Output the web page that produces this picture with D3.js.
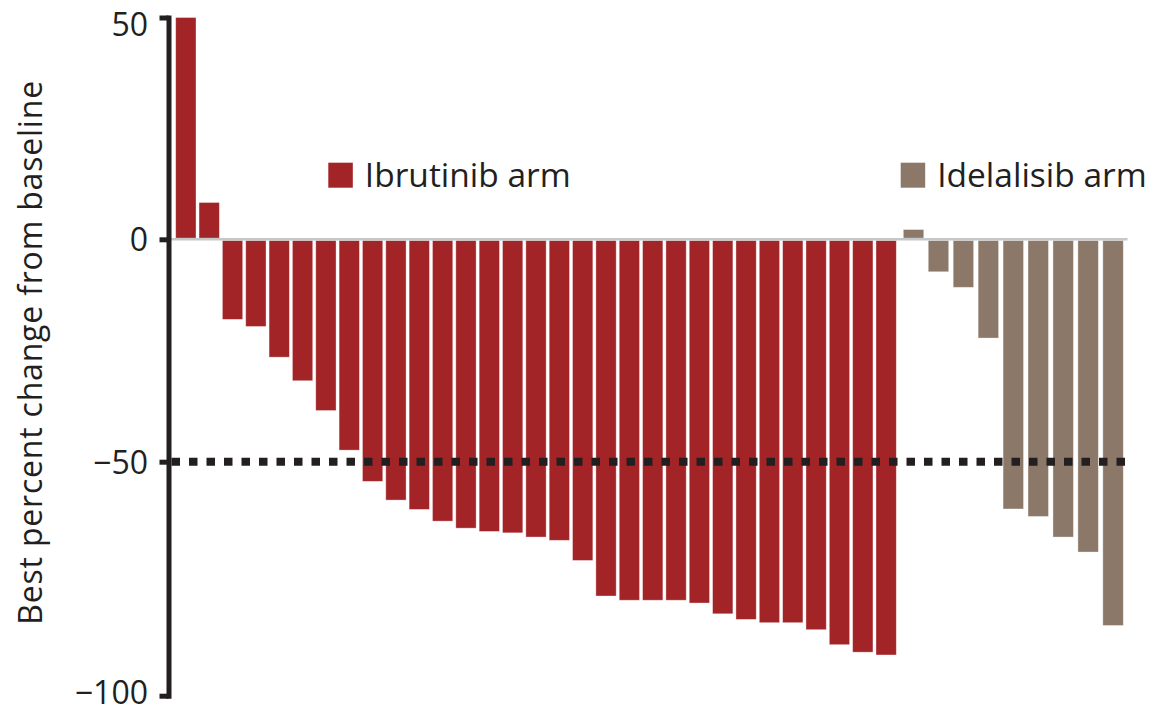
<!DOCTYPE html>
<html>
<head>
<meta charset="utf-8">
<script src="https://cdn.jsdelivr.net/npm/d3@7"></script>
<style>
  html, body { margin: 0; padding: 0; background: #fff; }
  svg { display: block; }
</style>
</head>
<body>
<svg id="chart" width="1151" height="708"></svg>
<script>
// ---- Data ----
const ibrutinibValues = [50, 8.3, -18.0, -19.6, -26.5, -31.8, -38.5, -47.4, -54.2, -58.2,
  -60.2, -62.7, -64.2, -64.9, -65.2, -66.1, -66.8, -71.1, -78.7, -79.6,
  -79.6, -79.6, -80.2, -82.5, -83.7, -84.4, -84.4, -85.9, -89.1, -90.7, -91.3];
const idelalisibValues = [2.2, -7.3, -10.8, -22.2, -60.1, -61.7, -66.1, -69.3, -85.0];
const yTickValues = [-100, -50, 0, 50];
const yTickLabels = ["\u2212100", "\u221250", "0", "50"];
const legendLabels = ["Ibrutinib arm", "Idelalisib arm"];
const yAxisTitle = "Best percent change from baseline";
const thresholdValue = -50;

// ---- Styles ----
const colIbr = "#a22426";
const colIde = "#8b7868";
const ink = "#231f20";
const font = "'Open Sans', 'Noto Sans', sans-serif";

const svg = d3.select("#chart");

// Vertical scale (the printed axis is slightly stretched below -50)
const y = d3.scaleLinear()
  .domain([-100, -50, 0, 50])
  .range([695.7, 461.7, 239.3, 17.5]);

const xIbr = d3.scaleBand()
  .domain(d3.range(ibrutinibValues.length))
  .range([175.7, 896.3])
  .paddingInner(0.13).paddingOuter(0);

const xIde = d3.scaleBand()
  .domain(d3.range(idelalisibValues.length))
  .range([903.3, 1123.3])
  .paddingInner(0.18).paddingOuter(0);

const axisX = 168.5;
const plotRight = 1127.5;

// Bars
function drawBars(values, xs, color, cls) {
  svg.append("g").attr("class", cls)
    .selectAll("rect").data(values).join("rect")
    .attr("x", (d, i) => xs(i))
    .attr("width", xs.bandwidth())
    .attr("y", d => d >= 0 ? y(d) : y(0) + 1.2)
    .attr("height", d => d >= 0 ? y(0) - 1.2 - y(d) : y(d) - y(0) - 1.2)
    .attr("fill", color)
    .attr("stroke", "rgba(255,255,255,0.45)")
    .attr("stroke-width", 0.8);
}
drawBars(ibrutinibValues, xIbr, colIbr, "ibr");
drawBars(idelalisibValues, xIde, colIde, "ide");

// Zero baseline
svg.append("line")
  .attr("x1", axisX).attr("x2", plotRight)
  .attr("y1", y(0)).attr("y2", y(0))
  .attr("stroke", "#c5c7c9").attr("stroke-width", 2.5);

// Threshold dotted line at -50
svg.append("line")
  .attr("x1", axisX + 3).attr("x2", plotRight)
  .attr("y1", y(thresholdValue)).attr("y2", y(thresholdValue))
  .attr("stroke", ink).attr("stroke-width", 8)
  .attr("stroke-dasharray", "8.5,9");

// Y axis
const yAxis = d3.axisLeft(y)
  .tickValues(yTickValues)
  .tickFormat(d => yTickLabels[yTickValues.indexOf(d)])
  .tickSize(9).tickSizeOuter(0).tickPadding(11.5);

const gAxis = svg.append("g")
  .attr("transform", `translate(${axisX},0)`)
  .call(yAxis);
gAxis.select(".domain")
  .attr("stroke", ink).attr("stroke-width", 5).attr("stroke-linecap", "square");
gAxis.selectAll(".tick line")
  .attr("stroke", ink).attr("stroke-width", 5);
gAxis.selectAll(".tick text")
  .attr("fill", ink)
  .style("font-family", font)
  .style("font-size", "32px")
  .attr("dy", d => d === 50 ? "0.57em" : (d === -100 ? "0.24em" : "0.36em"));

// Y axis title
svg.append("text")
  .attr("transform", `translate(42,352.4) rotate(-90)`)
  .attr("text-anchor", "middle")
  .attr("fill", ink)
  .style("font-family", font)
  .style("font-size", "32px")
  .style("letter-spacing", "0.8px")
  .text(yAxisTitle);

// Legend
const legendItems = [
  { label: legendLabels[0], color: colIbr, x: 328.3 },
  { label: legendLabels[1], color: colIde, x: 900.7 }
];
const lg = svg.append("g").selectAll("g").data(legendItems).join("g")
  .attr("transform", d => `translate(${d.x},162.7)`);
lg.append("rect")
  .attr("width", 24.5).attr("height", 25)
  .attr("fill", d => d.color);
lg.append("text")
  .attr("x", 36.5).attr("y", 24)
  .attr("fill", ink)
  .style("font-family", font)
  .style("font-size", "33.5px")
  .text(d => d.label);
</script>
</body>
</html>
